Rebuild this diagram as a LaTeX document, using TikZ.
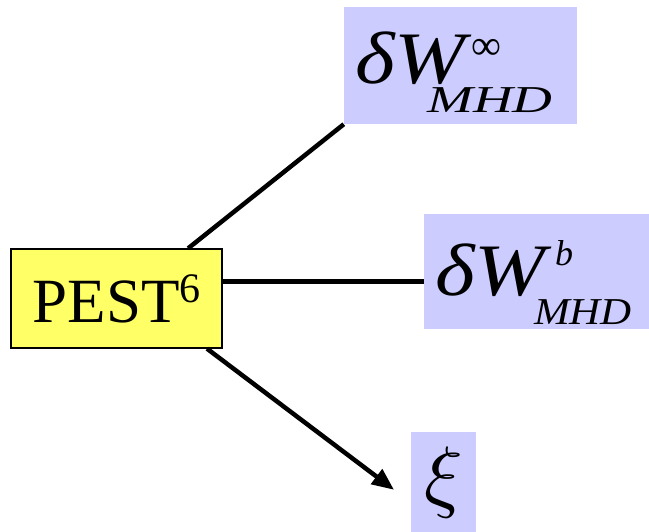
\documentclass[tikz,border=0pt]{standalone}
\usepackage{fontspec}
\usepackage{graphicx}
\setmainfont{Liberation Serif}
\usetikzlibrary{arrows.meta}
\definecolor{pestyellow}{RGB}{255,255,102}
\definecolor{boxblue}{RGB}{204,204,255}
\newcommand{\bigmath}{\fontsize{74}{74}\selectfont\itshape}
\newcommand{\smallmath}{\fontsize{38}{38}\selectfont\itshape}

\begin{document}
\begin{tikzpicture}[x=1pt, y=-1pt,
  every node/.style={inner sep=0pt, text=black},
  pestbox/.style={draw=black, line width=1.3pt, fill=pestyellow,
    minimum width=211pt, minimum height=99pt, font=\fontsize{63}{63}\selectfont},
  mathbox/.style={fill=boxblue},
  mathtxt/.style={anchor=base west},
  link/.style={line width=4.5pt}]
  \useasboundingbox (0,0) rectangle (649,532);

  \node[pestbox] (pest) at (116.5,298.5) {PEST\raisebox{20pt}{\fontsize{42}{42}\selectfont 6}};

  % delta W infinity
  \node[mathbox, minimum width=233pt, minimum height=117pt] (winf) at (460.5,65.5) {};
  \node[mathtxt] (winfmain) at (355,84) {\scalebox{1.15}[1]{\bigmath δW}};
  \node[mathtxt] (winfsup) at (471,60) {\fontsize{42}{42}\selectfont ∞};
  \node[mathtxt] (winfsub) at (427,113) {\scalebox{1.45}[1]{\smallmath MHD}};

  % delta W b
  \node[mathbox, minimum width=225pt, minimum height=115pt] (wb) at (536.5,271.5) {};
  \node[mathtxt] (wbmain) at (435,296) {\scalebox{1.15}[1]{\bigmath δW}};
  \node[mathtxt] (wbsup) at (555,266) {\fontsize{36}{36}\selectfont\itshape b};
  \node[mathtxt] (wbsub) at (534,324) {\scalebox{1.13}[1]{\smallmath MHD}};

  \node[mathbox, minimum width=65pt, minimum height=100pt] (xi) at (443.5,482)
    {\scalebox{8}{$\xi$}};

  \draw[link] (pest.35) -- (winf.south west);
  \draw[link] (pest.9) -- (pest.9 -| wb.west);
  \draw[link, -{Triangle[length=22pt,width=18pt]}, shorten >=21pt] (pest.-29) -- (xi.212);
\end{tikzpicture}
\end{document}
